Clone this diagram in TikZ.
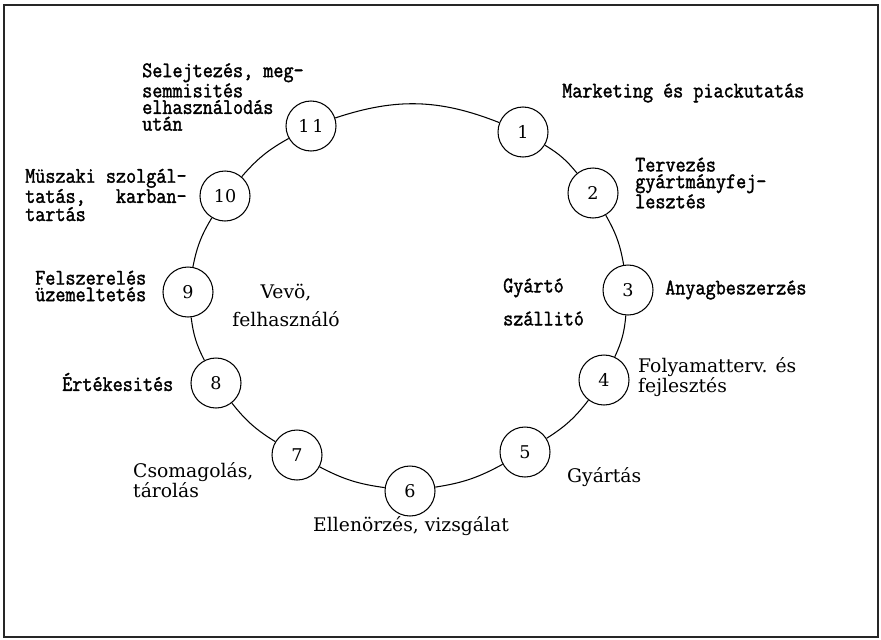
\documentclass[tikz,border=0pt]{standalone}
\usepackage{fontspec}
\newfontfamily\monolbl[FakeBold=1.6, FakeStretch=0.88]{Latin Modern Mono}
\newfontfamily\seriflbl{DejaVu Serif}
\tikzset{
  phase/.style={circle, draw, line width=0.9pt, minimum size=1.5cm, inner sep=0pt,
    font=\seriflbl\fontsize{15}{15}\selectfont},
  txtmono/.style={inner sep=0pt, align=left, anchor=west,
    font=\monolbl\fontsize{19}{14.2}\selectfont},
  txtserif/.style={inner sep=0pt, align=left, anchor=west,
    font=\seriflbl\fontsize{16}{13.8}\selectfont},
  link/.style={line width=0.9pt},
}
\begin{document}
\begin{tikzpicture}[x=0.03cm, y=-0.03cm]
  \useasboundingbox (0,0) rectangle (881,639);
  % Frame round the whole figure
  \draw [line width=1.2pt, black!85] (4,5) rectangle (878,637);

  % The eleven phases of the ring
  \foreach \n/\lab/\px/\py in {
    1/1/523/132,
    2/2/593/193,
    3/3/628/290,
    4/4/604/380,
    5/5/525/452,
    6/6/410/491,
    7/7/297/455,
    8/8/216/383,
    9/9/188/292,
    10/10/225/196,
    11/{1\,1}/311/126} {
    \node [phase] (p\n) at (\px,\py) {\lab};
  }
  % Arcs between neighbouring phases
  \foreach \a/\b/\bnd in {1/2/10, 2/3/10, 3/4/10, 4/5/10, 5/6/10, 6/7/10,
                          7/8/10, 8/9/10, 9/10/10, 10/11/10, 11/1/20} {
    \draw [link] (p\a) to [bend left=\bnd] (p\b);
  }

  % Texts of the phases
  \node [txtmono] (mkt) at (562,93) {Marketing és piackutatás};
  \node [txtmono] (terv) at (635,183) {Tervezés\\gyártmányfej-\\lesztés};
  \node [txtmono] (anyag) at (665,290) {Anyagbeszerzés};
  \node [txtserif] (foly) at (638,377) {Folyamatterv. és\\fejlesztés};
  \node [txtserif] (gyartas) at (567,477) {Gyártás};
  \node [txtserif] (ell) at (313,526) {Ellenörzés, vizsgálat};
  \node [txtserif] (csom) at (133,480) {Csomagolás,\\tárolás};
  \node [txtmono] (ert) at (62,382) {Értékesités};
  \node [txtmono] (felsz) at (35,286) {Felszerelés\\üzemeltetés};
  \node [txtmono] (musz) at (25,195) {Müszaki szolgál-\\tatás,~~~karban-\\tartás};
  \node [txtmono] (selej) at (142,97) {Selejtezés, meg-\\semmisités\\elhasználodás\\után};

  % The two sides inside the ring
  \node [txtmono] (gyarto) at (503,302) {Gyártó\\[11pt]szállitó};
  \node [txtserif, align=center, anchor=center] (vevo) at (286,305) {Vevö,\\[8pt]felhasználó};
\end{tikzpicture}
\end{document}
